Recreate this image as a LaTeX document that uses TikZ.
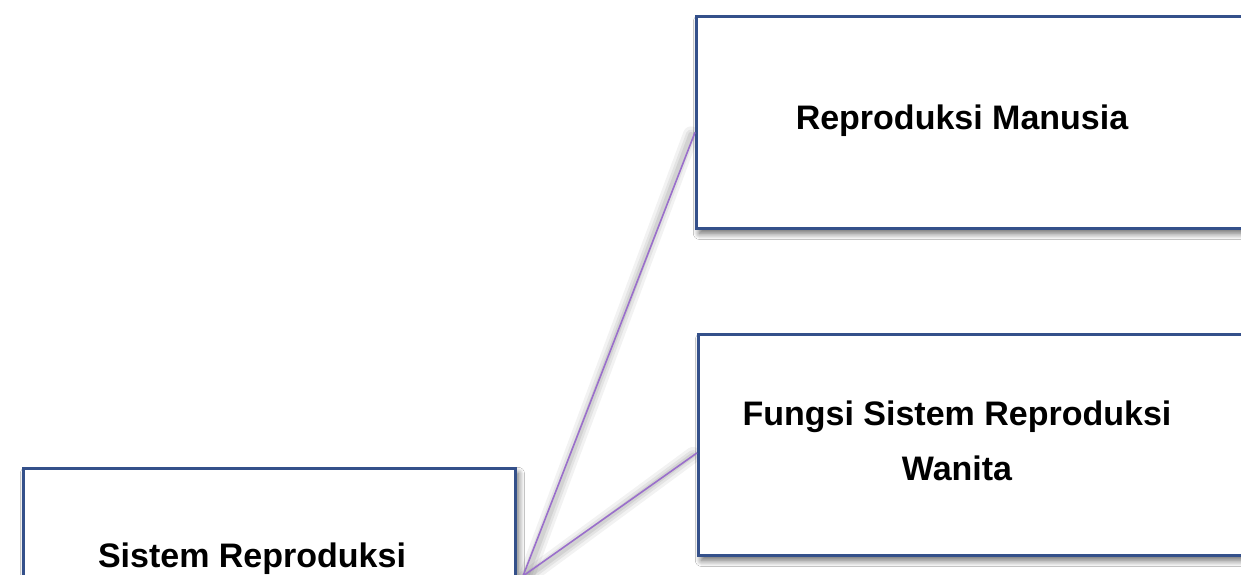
\documentclass[tikz,border=0pt]{standalone}
\usepackage{fontspec}
\setmainfont{Liberation Sans}
\usetikzlibrary{shadows.blur}
\definecolor{boxblue}{HTML}{34508A}
\definecolor{linepurple}{HTML}{9A6FCB}
\begin{document}
\begin{tikzpicture}[x=1pt,y=-1pt,
  boxface/.style={draw=boxblue, line width=2.8pt, fill=white, rectangle, anchor=north west, inner sep=0pt},
  box/.style={boxface, blur shadow={shadow xshift=3pt, shadow yshift=-5pt, shadow blur radius=6pt, shadow blur steps=12, shadow opacity=60}},
  lbl/.style={font=\bfseries\fontsize{34}{55}\selectfont, align=center, text=black, inner sep=0pt},
  conn/.style={draw=linepurple, line width=1.6pt},
  glowA/.style={draw=black, draw opacity=0.05, line width=16pt, line cap=round},
  glowB/.style={draw=black, draw opacity=0.06, line width=10pt, line cap=round},
  glowC/.style={draw=black, draw opacity=0.07, line width=5pt, line cap=round}]
\useasboundingbox (0,0) rectangle (1241,575);
\clip (0,0) rectangle (1241,575);
\fill[white] (0,0) rectangle (1241,575);
% boxes
\node[box, minimum width=620pt, minimum height=212pt] (b1) at (695,15) {};
\node[box, minimum width=620pt, minimum height=221pt] (b2) at (697,333) {};
\node[box, minimum width=492pt, minimum height=200pt] (b3) at (22,467) {};
% source of connectors
\coordinate (src) at (523,576);
% connector glow
\foreach \g in {glowA,glowB,glowC}{
  \draw[\g] ([xshift=3pt,yshift=-2pt]src) -- ([xshift=-4pt,yshift=-12pt]b1.west);
  \draw[\g] ([xshift=3pt,yshift=-2pt]src) -- ([xshift=-4pt,yshift=-10pt]b2.west);
}
% redraw box faces over the glow
\node[boxface, minimum width=620pt, minimum height=212pt] at (b1.north west) {};
\node[boxface, minimum width=620pt, minimum height=221pt] at (b2.north west) {};
\node[boxface, minimum width=492pt, minimum height=200pt] at (b3.north west) {};
% connectors
\draw[conn] (src) -- ([yshift=-10pt]b1.west);
\draw[conn] (src) -- ([yshift=-8pt]b2.west);
% texts
\node[lbl, anchor=base] (t1) at (962,129) {Reproduksi Manusia};
\node[lbl, anchor=base] (t2a) at (957,425) {Fungsi Sistem Reproduksi};
\node[lbl, anchor=base] (t2b) at (957,480) {Wanita};
\node[lbl, anchor=base] (t3) at (252,567) {Sistem Reproduksi};
\end{tikzpicture}
\end{document}
